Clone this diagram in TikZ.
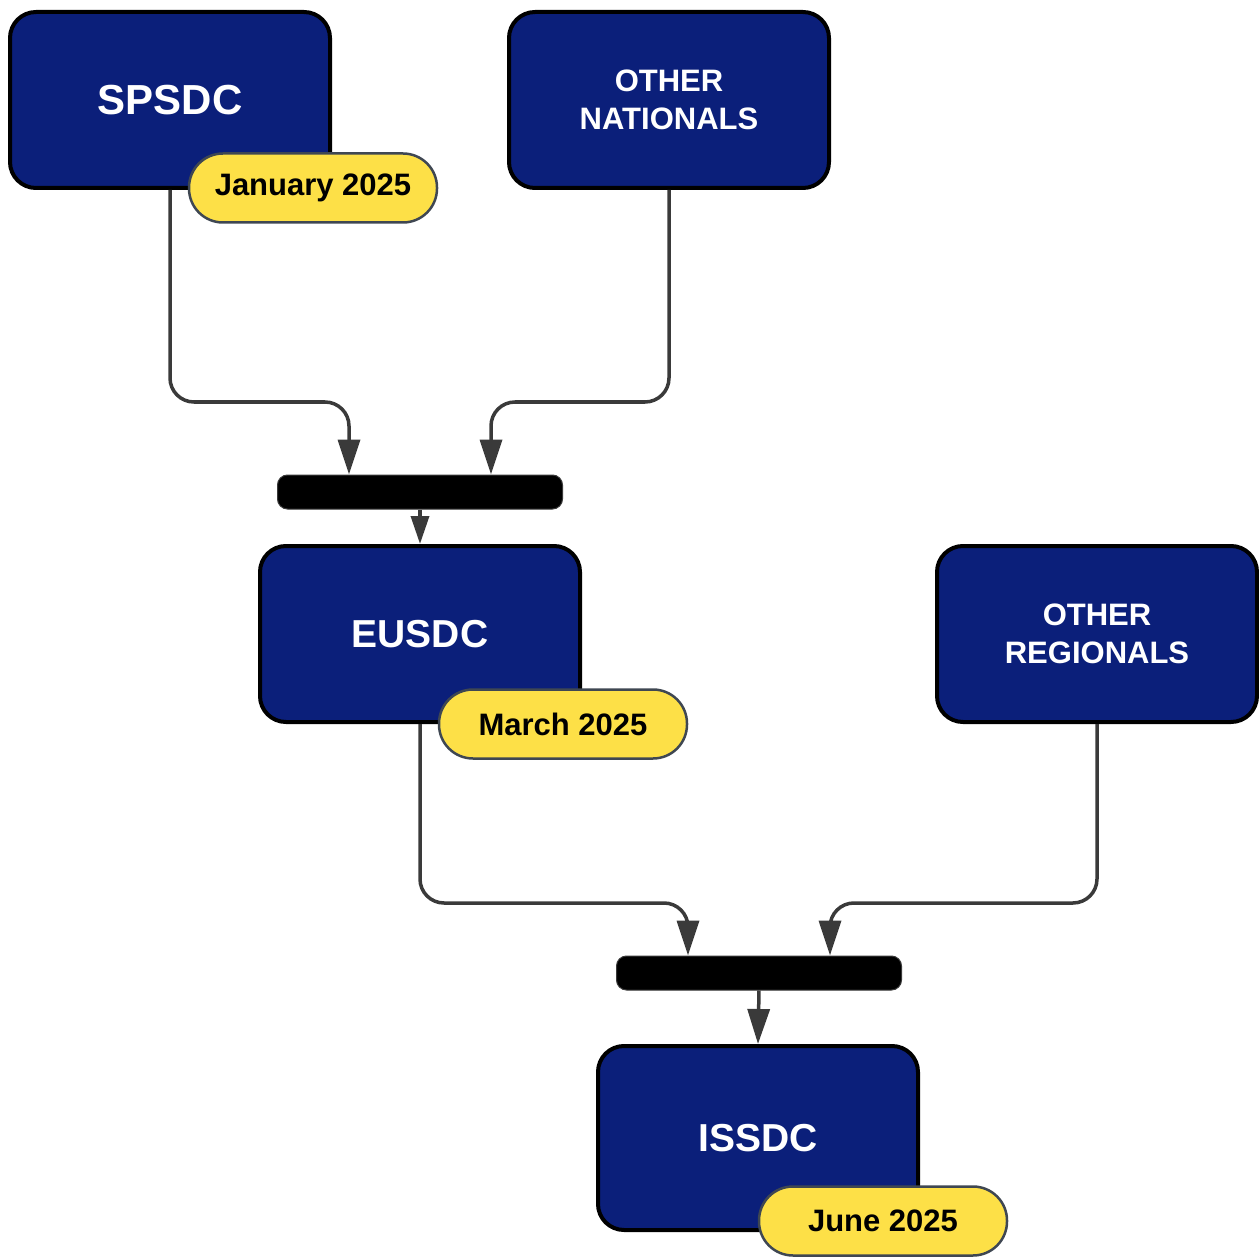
\documentclass[tikz,border=0pt]{standalone}
\usepackage{fontspec}
\setmainfont{Liberation Sans}
\usetikzlibrary{arrows.meta}
\definecolor{navy}{HTML}{0B1F7A}
\definecolor{badgeyellow}{HTML}{FDE047}
\definecolor{badgeedge}{HTML}{3F4752}
\definecolor{linegray}{HTML}{3A3A3A}

\begin{document}
\begin{tikzpicture}[x=1pt,y=-1pt,
  stage/.style={draw=black,line width=4pt,fill=navy,rounded corners=26pt,minimum width=320pt,minimum height=176pt,text=white,font=\bfseries\fontsize{31}{38}\selectfont,align=center},
  badge/.style={draw=badgeedge,line width=2.5pt,fill=badgeyellow,rounded corners=34pt,minimum width=248pt,minimum height=69pt,font=\bfseries\fontsize{31}{38}\selectfont},
  joinbar/.style={fill=black,draw=linegray,line width=1pt,rounded corners=10pt,minimum width=285pt,minimum height=34pt,inner sep=0pt},
  conn/.style={draw=linegray,line width=3.5pt,rounded corners=24pt,-{Triangle[length=35pt,width=22pt]}}]
\useasboundingbox (0,0) rectangle (1259,1257);
\node[stage,font=\bfseries\fontsize{42}{50}\selectfont] (spsdc) at (170,100) {SPSDC};
\node[stage] (nationals) at (669,100) {OTHER\\NATIONALS};
\node[stage,font=\bfseries\fontsize{39}{46}\selectfont] (eusdc) at (420,634) {EUSDC};
\node[stage] (regionals) at (1097,634) {OTHER\\REGIONALS};
\node[stage,font=\bfseries\fontsize{39}{46}\selectfont,minimum height=184pt] (issdc) at (758,1138) {ISSDC};
\node[badge] (jan) at (313,188) {January 2025};
\node[badge] (mar) at (563,724) {March 2025};
\node[badge] (jun) at (883,1221) {June 2025};
\node[joinbar] (bar1) at (420,492) {};
\node[joinbar] (bar2) at (759,973) {};
% merging into the bars
\draw[conn] (spsdc.south) -- ++(0,212) -| ([xshift=-71pt]bar1.north);
\draw[conn] (nationals.south) -- ++(0,212) -| ([xshift=71pt]bar1.north);
\draw[conn,-{Triangle[length=28pt,width=18pt]}] (bar1.south) -- (eusdc.north);
\draw[conn] (eusdc.south) -- ++(0,179) -| ([xshift=-71pt]bar2.north);
\draw[conn] (regionals.south) -- ++(0,179) -| ([xshift=71pt]bar2.north);
\draw[conn] (bar2.south) -- (issdc.north);
\end{tikzpicture}
\end{document}
